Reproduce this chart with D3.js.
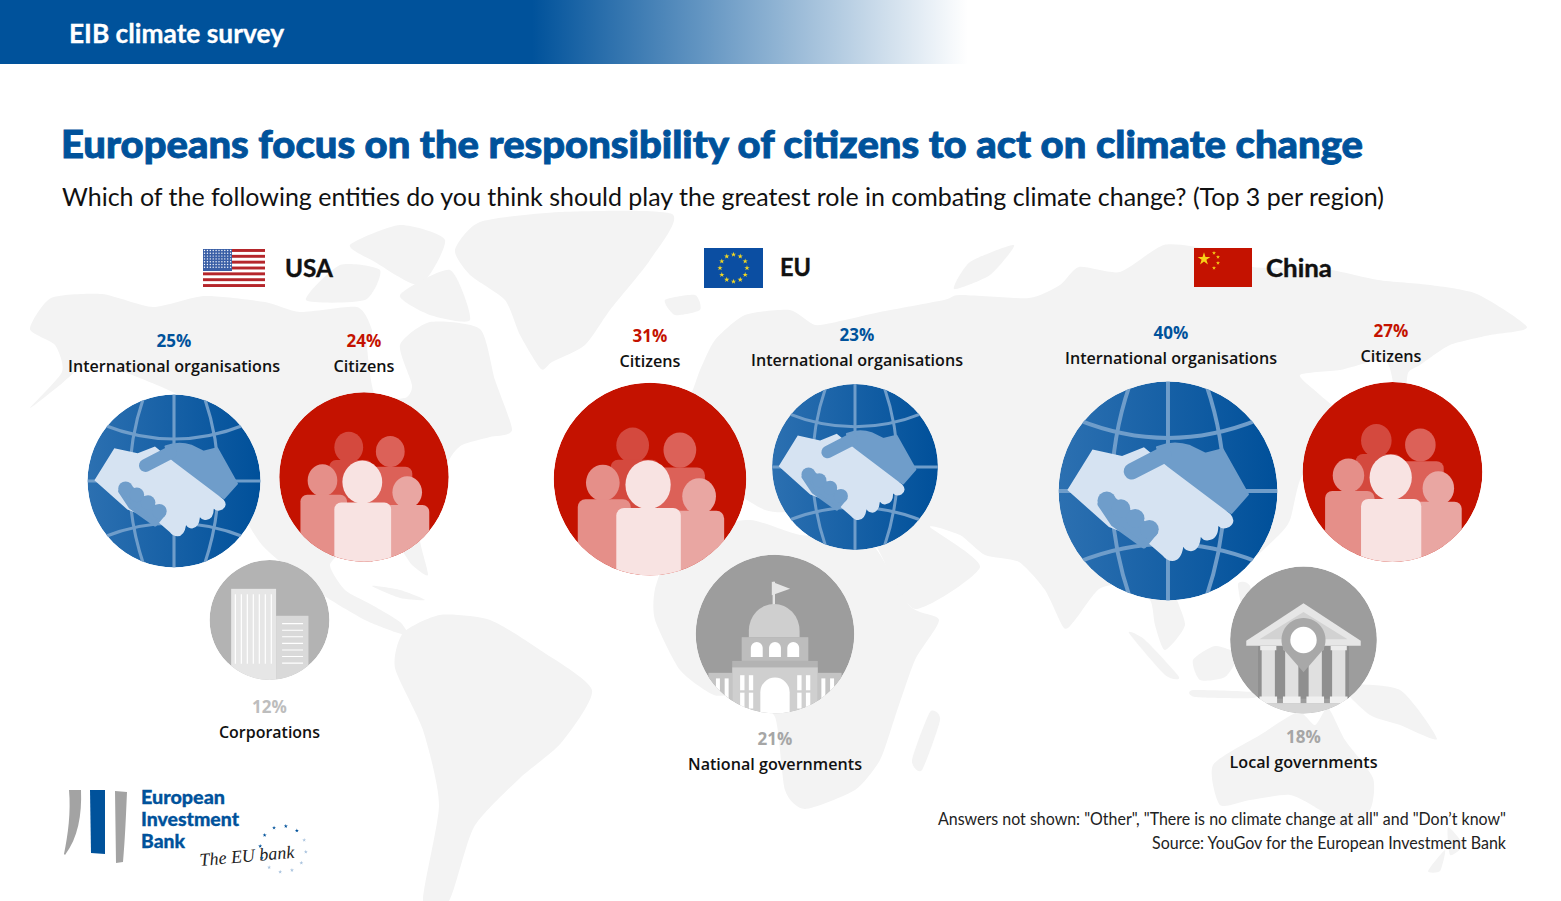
<!DOCTYPE html>
<html>
<head>
<meta charset="utf-8">
<style>
  html, body { margin: 0; padding: 0; background: #fff; overflow: hidden; }
  svg text { font-family: "Open Sans", sans-serif; }
  svg text.lato { font-family: Lato, sans-serif; }
</style>
<script src="https://cdn.jsdelivr.net/npm/d3@7"></script>
</head>
<body>
<svg id="chart" width="1561" height="901"></svg>
<script>
const headerText = "EIB climate survey"
const titleText = "Europeans focus on the responsibility of citizens to act on climate change"
const questionText = "Which of the following entities do you think should play the greatest role in combating climate change? (Top 3 per region)"
const footnotes = ['Answers not shown: "Other", "There is no climate change at all" and "Don’t know"', "Source: YouGov for the European Investment Bank"]
const logoWords = ["European", "Investment", "Bank"]

// survey answers
const regions = ["USA", "EU", "China"]
const usaEntities = ["International organisations", "Citizens", "Corporations"]
const usaValues = [25, 24, 12]
const euEntities = ["Citizens", "International organisations", "National governments"]
const euValues = [31, 23, 21]
const chinaEntities = ["International organisations", "Citizens", "Local governments"]
const chinaValues = [40, 27, 18]

// hand placed layout, the source has no axes: [cx, cy, labelX, pctBaseline]
const usaSpots = [[174, 481, 174, 347], [364, 477, 364, 347], [269.5, 620, 269.5, 713]]
const euSpots = [[650, 479, 650, 342], [855, 467, 857, 341], [775, 634, 775, 745]]
const chinaSpots = [[1168, 491, 1171, 339], [1392.5, 472, 1391, 337], [1303.5, 640, 1303.5, 743]]
const panels = [
    { name: "USA", entities: usaEntities, values: usaValues, spots: usaSpots },
    { name: "EU", entities: euEntities, values: euValues, spots: euSpots },
    { name: "China", entities: chinaEntities, values: chinaValues, spots: chinaSpots }
]

const BLUE = "#00529b", RED = "#c41200", MAP_GREY = "#f3f3f3"
const pctColors = { "International organisations": BLUE, "Citizens": RED, "Corporations": "#bdbdbd",
    "National governments": "#a6a6a6", "Local governments": "#a6a6a6" }
const nameWidths = { "International organisations": 212, "Citizens": 61, "Corporations": 101,
    "National governments": 174, "Local governments": 148 }

// rough tracing of the backdrop world map
const mapOutlines = [
    // north and central america
    [[30,329],[51,298],[102,294],[153,307],[204,296],[265,302],[300,312],[357,307],[372,330],[367,345],[375,395],[405,398],[412,385],[400,345],[430,322],[480,329],[495,380],[512,430],[490,437],[462,445],[449,460],[425,510],[420,540],[428,575],[412,565],[395,545],[350,548],[330,565],[345,590],[372,605],[400,622],[408,635],[395,632],[365,620],[326,597],[290,570],[262,545],[245,518],[225,470],[190,420],[178,395],[127,373],[92,360],[60,385],[30,408],[62,372],[55,345]],
    [[306,300],[340,265],[380,270],[365,300]],
    [[350,245],[400,225],[445,240],[420,285],[375,262]],
    [[400,295],[450,270],[470,320],[430,315]],
    [[372,586],[400,590],[425,600],[400,598]],
    // greenland, iceland
    [[455,250],[480,222],[560,212],[672,214],[650,260],[610,310],[585,345],[552,362],[541,369],[520,335],[505,300],[470,275]],
    [[665,300],[695,295],[700,310],[675,315]],
    // south america
    [[403,633],[440,615],[490,620],[540,650],[592,690],[561,743],[520,778],[474,827],[449,901],[423,901],[439,805],[423,730],[395,668]],
    // eurasia
    [[632,480],[650,440],[640,420],[668,405],[690,395],[700,370],[715,340],[745,315],[790,310],[815,325],[845,320],[880,312],[944,300],[960,295],[1029,298],[1060,285],[1079,267],[1120,272],[1164,245],[1210,250],[1253,267],[1320,268],[1378,280],[1430,285],[1477,294],[1527,327],[1490,335],[1450,345],[1420,365],[1408,373],[1405,400],[1395,390],[1385,360],[1340,370],[1300,375],[1320,395],[1345,420],[1320,450],[1300,480],[1290,520],[1278,536],[1240,570],[1205,585],[1175,590],[1185,625],[1165,650],[1155,625],[1150,600],[1125,585],[1099,589],[1075,620],[1064,628],[1045,590],[1019,562],[985,555],[960,535],[930,527],[980,567],[915,609],[880,553],[868,520],[880,490],[830,490],[800,510],[765,510],[700,475],[665,510],[635,510]],
    [[954,289],[970,262],[1014,245],[990,275]],
    // africa
    [[690,530],[750,520],[800,535],[868,540],[910,606],[939,620],[915,660],[895,717],[880,760],[855,790],[805,809],[785,790],[775,717],[745,695],[714,695],[680,670],[655,620],[655,589],[670,550]],
    [[930,712],[940,720],[922,770],[912,760]],
    // islands of south east asia
    [[1129,633],[1145,640],[1179,677],[1165,675]],
    [[1193,690],[1253,692],[1253,698],[1195,697]],
    [[1193,660],[1215,646],[1238,655],[1225,677],[1200,680]],
    [[1238,584],[1250,586],[1258,628],[1245,620]],
    [[1343,686],[1400,690],[1437,739],[1400,725],[1370,715]],
    // australia, new zealand
    [[1213,765],[1260,735],[1298,712],[1315,725],[1328,708],[1345,740],[1373,778],[1370,810],[1343,827],[1320,810],[1290,795],[1250,800],[1220,805]],
    [[1448,827],[1463,845],[1450,855]],
    [[1445,850],[1440,871],[1428,871]]
]

const svg = d3.select("#chart")
const defs = svg.append("defs")

const headerGrad = defs.append("linearGradient").attr("id", "header-grad")
headerGrad.append("stop").attr("offset", 0.55).attr("stop-color", BLUE)
headerGrad.append("stop").attr("offset", 1).attr("stop-color", BLUE).attr("stop-opacity", 0)

const globeGrad = defs.append("linearGradient").attr("id", "globe-grad")
globeGrad.append("stop").attr("offset", 0).attr("stop-color", "#2c70b1")
globeGrad.append("stop").attr("offset", 1).attr("stop-color", "#00509a")

defs.append("clipPath").attr("id", "unit-circle").append("circle").attr("r", 100)

// background map
const outline = d3.line().curve(d3.curveCardinalClosed.tension(0.35))
svg.append("g").attr("id", "world").selectAll("path")
    .data(mapOutlines)
    .enter()
    .append("path")
    .attr("d", outline)
    .attr("fill", MAP_GREY)

// stretches or squeezes a text to the width it has in the source
function fitText(sel, width) {
    return sel.attr("textLength", width).attr("lengthAdjust", "spacingAndGlyphs")
}

// Lato has no weight as heavy as the source title, so thicken it with a thin stroke
function heavy(sel, color, w) {
    return sel.attr("stroke", color).attr("stroke-width", w)
}

// header and titles
svg.append("rect").attr("width", 968).attr("height", 64).attr("fill", "url(#header-grad)")
heavy(fitText(svg.append("text").attr("class", "lato").attr("x", 69).attr("y", 43).attr("fill", "#fff")
    .style("font-size", "26px").style("font-weight", 700).text(headerText), 215), "#fff", 0.3)
heavy(fitText(svg.append("text").attr("class", "lato").attr("x", 61).attr("y", 158).attr("fill", BLUE)
    .style("font-size", "38.5px").style("font-weight", 900).text(titleText), 1302), BLUE, 0.9)
fitText(svg.append("text").attr("class", "lato").attr("x", 62).attr("y", 206).attr("fill", "#111")
    .style("font-size", "25.5px").text(questionText), 1322)

// bubbles
const radius = d3.scaleSqrt().domain([0, 40]).range([0, 109.4])

const iconByEntity = {
    "International organisations": drawGlobe,
    "Citizens": drawPeople,
    "Corporations": drawOffices,
    "National governments": drawCapitol,
    "Local governments": drawTemple
}

panels.forEach(panel => {
    panel.entities.forEach((entity, i) => {
        const [cx, cy, labelX, pctY] = panel.spots[i]
        const value = panel.values[i]
        const g = svg.append("g")
            .attr("class", "bubble")
            .attr("transform", `translate(${cx},${cy}) scale(${radius(value) / 100})`)
            .append("g")
            .attr("clip-path", "url(#unit-circle)")
        iconByEntity[entity](g)

        svg.append("text").attr("x", labelX).attr("y", pctY)
            .attr("text-anchor", "middle")
            .attr("fill", pctColors[entity])
            .style("font-size", "17px").style("font-weight", 700)
            .text(value + "%")
        fitText(svg.append("text").attr("x", labelX).attr("y", pctY + 25)
            .attr("text-anchor", "middle")
            .attr("fill", "#111")
            .style("font-size", "17px").style("font-weight", 600)
            .text(entity), nameWidths[entity])
    })
})

function drawGlobe(g) {
    const line = "#6f9dca", light = "#d6e3f2"
    g.append("circle").attr("r", 100).attr("fill", "url(#globe-grad)")
    const grid = g.append("g").attr("fill", "none").attr("stroke", line).attr("stroke-width", 3.6)
    grid.append("path").attr("d", "M0,-100V100M-100,0H100")
    grid.append("path").attr("d", "M-35,-97Q-68,0 -35,97M35,-97Q68,0 35,97")
    grid.append("path").attr("d", "M-82,-65Q0,-32 82,-65M-82,65Q0,32 82,65")
    // far hand
    g.append("path").attr("fill", line).attr("stroke", line).attr("stroke-width", 2).attr("stroke-linejoin", "round")
        .attr("d", "M-10,-40Q5,-46 20,-41L34,-34L50,-38L73,3L58,20L0,-15Z")
    // near hand
    g.append("path").attr("fill", light)
        .attr("d", "M-69,-38L-42,-32L-22,-40L0,-22L57,21Q63,28 56,33Q50,36 46,32Q46,44 37,45Q33,46 30,42Q29,54 21,55Q16,55 14,51Q12,64 4,64Q-1,64 -5,59L-20,46L-54,33L-92,-1Z")
    // thumb of the far hand
    g.append("line").attr("x1", -33).attr("y1", -18).attr("x2", -4).attr("y2", -33)
        .attr("stroke", line).attr("stroke-width", 15).attr("stroke-linecap", "round")
    // fingers
    const fingers = [[-56, 9], [-43, 16], [-30, 25], [-17, 35]]
    g.append("path").attr("fill", line).attr("stroke", line).attr("stroke-width", 5).attr("stroke-linejoin", "round")
        .attr("d", "M-62,12L-50,30L-22,50L-12,38L-50,8Z")
    g.selectAll("circle.finger").data(fingers).enter().append("circle")
        .attr("class", "finger").attr("cx", d => d[0]).attr("cy", d => d[1]).attr("r", 8.5).attr("fill", line)
}

function drawPeople(g) {
    g.append("circle").attr("r", 100).attr("fill", RED)
    const person = (hx, hy, hr, x0, x1, top, fill) => {
        g.append("ellipse").attr("cx", hx).attr("cy", hy).attr("rx", hr).attr("ry", hr * 1.08).attr("fill", fill)
        g.append("rect").attr("x", x0).attr("y", top).attr("width", x1 - x0).attr("height", 110 - top)
            .attr("rx", 8).attr("fill", fill)
    }
    person(-18, -35, 17, -41, 10, -20, "#d4493e")
    person(31, -30, 17, 8, 57, -12, "#dc6158")
    person(-49, 4, 17.5, -75, -20, 21, "#e58f89")
    person(51, 18, 17.5, 20, 77, 33, "#e9a6a2")
    person(-2, 6, 23.5, -35, 32, 30, "#f8e3e2")
}

function drawOffices(g) {
    g.append("circle").attr("r", 100).attr("fill", "#b3b3b3")
    g.append("rect").attr("x", -64).attr("y", -52).attr("width", 75).attr("height", 160).attr("fill", "#e6e6e6")
    g.append("rect").attr("x", 11).attr("y", -7).attr("width", 54).attr("height", 115).attr("fill", "#d9d9d9")
    g.selectAll("line.v").data(d3.range(7)).enter().append("line").attr("class", "v")
        .attr("x1", i => -57 + i * 10).attr("x2", i => -57 + i * 10)
        .attr("y1", -43).attr("y2", 73)
        .attr("stroke", "#fff").attr("stroke-width", 2)
    g.selectAll("line.h").data(d3.range(7)).enter().append("line").attr("class", "h")
        .attr("y1", i => 6 + i * 11).attr("y2", i => 6 + i * 11)
        .attr("x1", 21).attr("x2", 56)
        .attr("stroke", "#fff").attr("stroke-width", 1.8)
}

function drawCapitol(g) {
    const white = "#fff"
    g.append("circle").attr("r", 100).attr("fill", "#9d9d9d")
    g.append("rect").attr("x", -3).attr("y", -66).attr("width", 3).attr("height", 32).attr("fill", "#e6e6e6")
    g.append("path").attr("d", "M-4,-66L19,-57L-4,-49Z").attr("fill", "#e6e6e6")
    g.append("path").attr("d", "M-33,4V-4A32,34 0 0 1 31,-4V4Z").attr("fill", "#cfcfcf")
    g.append("rect").attr("x", -42).attr("y", 4).attr("width", 84).attr("height", 30).attr("fill", "#bdbdbd")
    const arch = (x, w, top, bottom) => g.append("path").attr("fill", white)
        .attr("d", `M${x - w / 2},${bottom}V${top + w / 2}A${w / 2},${w / 2} 0 0 1 ${x + w / 2},${top + w / 2}V${bottom}Z`)
    ;[-23, 0, 23].forEach(x => arch(x, 15, 10, 29))
    ;[-1, 1].forEach(side => {
        g.append("rect").attr("x", side < 0 ? -84 : 54).attr("y", 49).attr("width", 30).attr("height", 60).attr("fill", "#c4c4c4")
        ;[-72, -61].forEach(x => g.append("rect").attr("x", side * -x - 2.5).attr("y", 56).attr("width", 5).attr("height", 26).attr("fill", white))
    })
    g.append("rect").attr("x", -54).attr("y", 34).attr("width", 108).attr("height", 8).attr("fill", "#b3b3b3")
    g.append("rect").attr("x", -54).attr("y", 42).attr("width", 108).attr("height", 60).attr("fill", "#cfcfcf")
    arch(0, 37, 55, 102)
    ;[-44, -33, 28, 39].forEach(x => {
        g.append("rect").attr("x", x).attr("y", 52).attr("width", 5.5).attr("height", 19).attr("fill", white)
        g.append("rect").attr("x", x).attr("y", 74).attr("width", 5.5).attr("height", 20).attr("fill", white)
    })
}

function drawTemple(g) {
    g.append("circle").attr("r", 100).attr("fill", "#9d9d9d")
    g.append("rect").attr("x", -62).attr("y", 8).attr("width", 124).attr("height", 72).attr("fill", "#8f8f8f")
    g.append("rect").attr("x", -70).attr("y", 86).attr("width", 140).attr("height", 20).attr("fill", "#d5d5d5")
    ;[-48, -16, 16, 48].forEach(x => {
        g.append("rect").attr("x", x - 9).attr("y", 12).attr("width", 18).attr("height", 66).attr("fill", "#e0e0e0")
        g.append("rect").attr("x", x - 11).attr("y", 8).attr("width", 22).attr("height", 6).attr("fill", "#ececec")
        g.append("rect").attr("x", x - 12).attr("y", 77).attr("width", 24).attr("height", 9).attr("fill", "#f0f0f0")
    })
    g.append("path").attr("d", "M0,-50L78,1V8H-78V1Z").attr("fill", "#e6e6e6")
    g.append("path").attr("d", "M0,-38L60,-1H-60Z").attr("fill", "#d2d2d2")
    g.append("path").attr("d", "M-27,13A30,30 0 1 1 27,13L0,44Z").attr("fill", "#a8a8a8")
    g.append("circle").attr("r", 18).attr("fill", "#fff")
}

// region headings with their flags
const headingX = { USA: 285, EU: 780, China: 1266 }
const headingY = { USA: 277, EU: 276, China: 277 }
const headingW = { USA: 48, EU: 31, China: 66 }
regions.forEach(name => {
    heavy(fitText(svg.append("text").attr("class", "lato").attr("x", headingX[name]).attr("y", headingY[name]).attr("fill", "#111")
        .style("font-size", "25px").style("font-weight", 700).text(name), headingW[name]), "#111", 0.4)
})

function star(size) {
    return d3.symbol().type(d3.symbolStar).size(size)()
}

const usaFlag = svg.append("g").attr("transform", "translate(203,249)")
usaFlag.append("rect").attr("width", 62).attr("height", 38).attr("fill", "#fff")
usaFlag.selectAll("rect.stripe").data(d3.range(0, 13, 2)).enter().append("rect").attr("class", "stripe")
    .attr("y", i => i * 38 / 13).attr("width", 62).attr("height", 38 / 13).attr("fill", "#b5262b")
usaFlag.append("rect").attr("width", 29).attr("height", 22).attr("fill", "#3a5fa6")
usaFlag.selectAll("circle").data(d3.range(70)).enter().append("circle")
    .attr("cx", i => 1.5 + (i % 10) * 2.9).attr("cy", i => 1.5 + Math.floor(i / 10) * 2.8).attr("r", 0.7).attr("fill", "#fff")

const euFlag = svg.append("g").attr("transform", "translate(704,248)")
euFlag.append("rect").attr("width", 59).attr("height", 40).attr("fill", "#0b4ea2")
euFlag.selectAll("path").data(d3.range(12)).enter().append("path")
    .attr("d", star(9))
    .attr("fill", "#f5d922")
    .attr("transform", i => `translate(${29.5 + 13.5 * Math.sin(i * Math.PI / 6)},${20 - 13.5 * Math.cos(i * Math.PI / 6)})`)

const chinaFlag = svg.append("g").attr("transform", "translate(1194,248)")
chinaFlag.append("rect").attr("width", 58).attr("height", 39).attr("fill", RED)
chinaFlag.append("path").attr("d", star(50)).attr("fill", "#f7d117").attr("transform", "translate(10,11)")
chinaFlag.selectAll("path.small").data([[20, 5], [24, 9], [24, 15], [20, 20]]).enter().append("path").attr("class", "small")
    .attr("d", star(5)).attr("fill", "#f7d117").attr("transform", d => `translate(${d[0]},${d[1]})`)

// footnotes
footnotes.forEach((t, i) => {
    fitText(svg.append("text").attr("class", "lato").attr("x", 1506).attr("y", 825 + i * 24).attr("text-anchor", "end").attr("fill", "#222")
        .style("font-size", "16.5px").text(t), i === 0 ? 568 : 354)
})

// logo
const logo = svg.append("g").attr("id", "logo")
logo.append("path").attr("fill", "#a3a3a3").attr("d", "M69,790H81C82,815 78,838 65,855L64,854C68,835 71,812 69,790Z")
logo.append("path").attr("fill", BLUE).attr("d", "M90,790H105V854L91,853Z")
logo.append("path").attr("fill", "#a3a3a3").attr("d", "M115,791L127,792C126,815 125,840 123,862L116,863Z")
logoWords.forEach((w, i) => {
    heavy(logo.append("text").attr("class", "lato").attr("x", 141).attr("y", 804 + i * 22).attr("fill", BLUE)
        .style("font-size", "18.5px").style("font-weight", 900).text(w)
        .call(s => fitText(s, [84, 98, 44][i])), BLUE, 0.3)
})
logo.append("text").attr("x", 200).attr("y", 866).attr("fill", "#222")
    .attr("transform", "rotate(-5,200,866)")
    .style("font-family", '"Liberation Serif", serif').style("font-style", "italic").style("font-size", "18px")
    .text("The EU bank")
logo.selectAll("path.logo-star").data(d3.range(12)).enter().append("path").attr("class", "logo-star")
    .attr("d", star(5))
    .attr("fill", i => i > 2 && i < 9 ? "#a9c3de" : BLUE)
    .attr("transform", i => `translate(${283 + 23 * Math.sin(i * Math.PI / 6 - 0.4)},${849 - 23 * Math.cos(i * Math.PI / 6 - 0.4)})`)
</script>
</body>
</html>
